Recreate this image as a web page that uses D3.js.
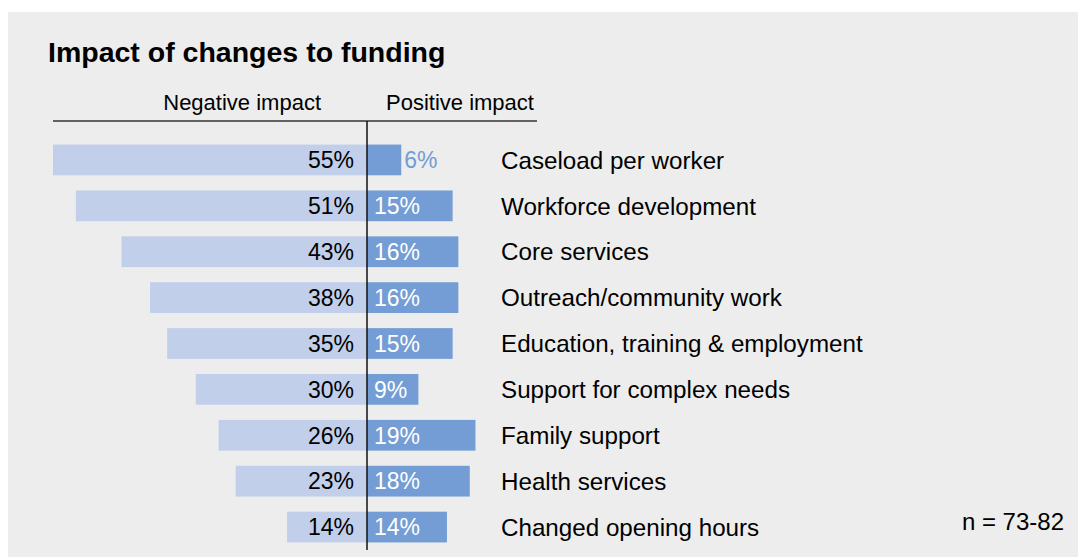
<!DOCTYPE html>
<html>
<head>
<meta charset="utf-8">
<script src="https://cdn.jsdelivr.net/npm/d3@7"></script>
<style>
  body { margin: 0; background: #fff; }
  text { font-family: "Liberation Sans", Arial, sans-serif; }
</style>
</head>
<body>
<div id="chart"></div>
<script>
const categories = [
  "Caseload per worker",
  "Workforce development",
  "Core services",
  "Outreach/community work",
  "Education, training & employment",
  "Support for complex needs",
  "Family support",
  "Health services",
  "Changed opening hours"
];
const negativeValues = [55, 51, 43, 38, 35, 30, 26, 23, 14];
const positiveValues = [6, 15, 16, 16, 15, 9, 19, 18, 14];
const headerLabels = ["Negative impact", "Positive impact"];

const W = 1078, H = 558;
const lightBlue = "#c1cfeb", darkBlue = "#739dd4";

const rows = categories.map((c, i) => ({name: c, neg: negativeValues[i], pos: positiveValues[i]}));

const svg = d3.select("#chart").append("svg")
    .attr("width", W)
    .attr("height", H);

// panel background
svg.append("rect")
    .attr("x", 8).attr("y", 12)
    .attr("width", W - 8).attr("height", 545)
    .attr("fill", "#ededed");

svg.append("text")
    .attr("x", 48).attr("y", 62)
    .attr("font-size", 28.5)
    .attr("font-weight", "bold")
    .attr("fill", "#000")
    .text("Impact of changes to funding");

const x = d3.scaleLinear().domain([-55, 55]).range([53, 681]);
const y = d3.scaleBand().domain(categories).range([137, 550])
    .paddingInner(0.33).paddingOuter(0.165);

// header
svg.append("text")
    .attr("x", x(0) - 46).attr("y", 110)
    .attr("text-anchor", "end")
    .attr("font-size", 22)
    .text(headerLabels[0]);
svg.append("text")
    .attr("x", x(0) + 19).attr("y", 110)
    .attr("font-size", 22)
    .text(headerLabels[1]);

svg.append("line")
    .attr("x1", 53).attr("x2", 537)
    .attr("y1", 121).attr("y2", 121)
    .attr("stroke", "#333").attr("stroke-width", 1.5);

const g = svg.selectAll(".row").data(rows).enter().append("g").attr("class", "row");

g.append("rect")
    .attr("x", d => x(-d.neg))
    .attr("y", d => y(d.name))
    .attr("width", d => x(0) - x(-d.neg))
    .attr("height", y.bandwidth())
    .attr("fill", lightBlue);

g.append("rect")
    .attr("x", x(0))
    .attr("y", d => y(d.name))
    .attr("width", d => x(d.pos) - x(0))
    .attr("height", y.bandwidth())
    .attr("fill", darkBlue);

g.append("text")
    .attr("x", x(0) - 13)
    .attr("y", d => y(d.name) + y.bandwidth() / 2)
    .attr("dy", "0.36em")
    .attr("text-anchor", "end")
    .attr("font-size", 23)
    .attr("fill", "#000")
    .text(d => d.neg + "%");

// small bars get the label outside
g.append("text")
    .attr("x", d => d.pos < 8 ? x(d.pos) + 3 : x(0) + 7)
    .attr("y", d => y(d.name) + y.bandwidth() / 2)
    .attr("dy", "0.36em")
    .attr("font-size", 23)
    .attr("fill", d => d.pos < 8 ? darkBlue : "#fff")
    .text(d => d.pos + "%");

g.append("text")
    .attr("x", 501)
    .attr("y", d => y(d.name) + y.bandwidth() / 2)
    .attr("dy", "0.36em")
    .attr("font-size", 24.2)
    .attr("fill", "#000")
    .text(d => d.name);

svg.append("line")
    .attr("x1", x(0)).attr("x2", x(0))
    .attr("y1", 121).attr("y2", 550)
    .attr("stroke", "#111").attr("stroke-width", 1.5);

svg.append("text")
    .attr("x", 1064).attr("y", 530)
    .attr("text-anchor", "end")
    .attr("font-size", 24)
    .attr("fill", "#000")
    .text("n = 73-82");
</script>
</body>
</html>
